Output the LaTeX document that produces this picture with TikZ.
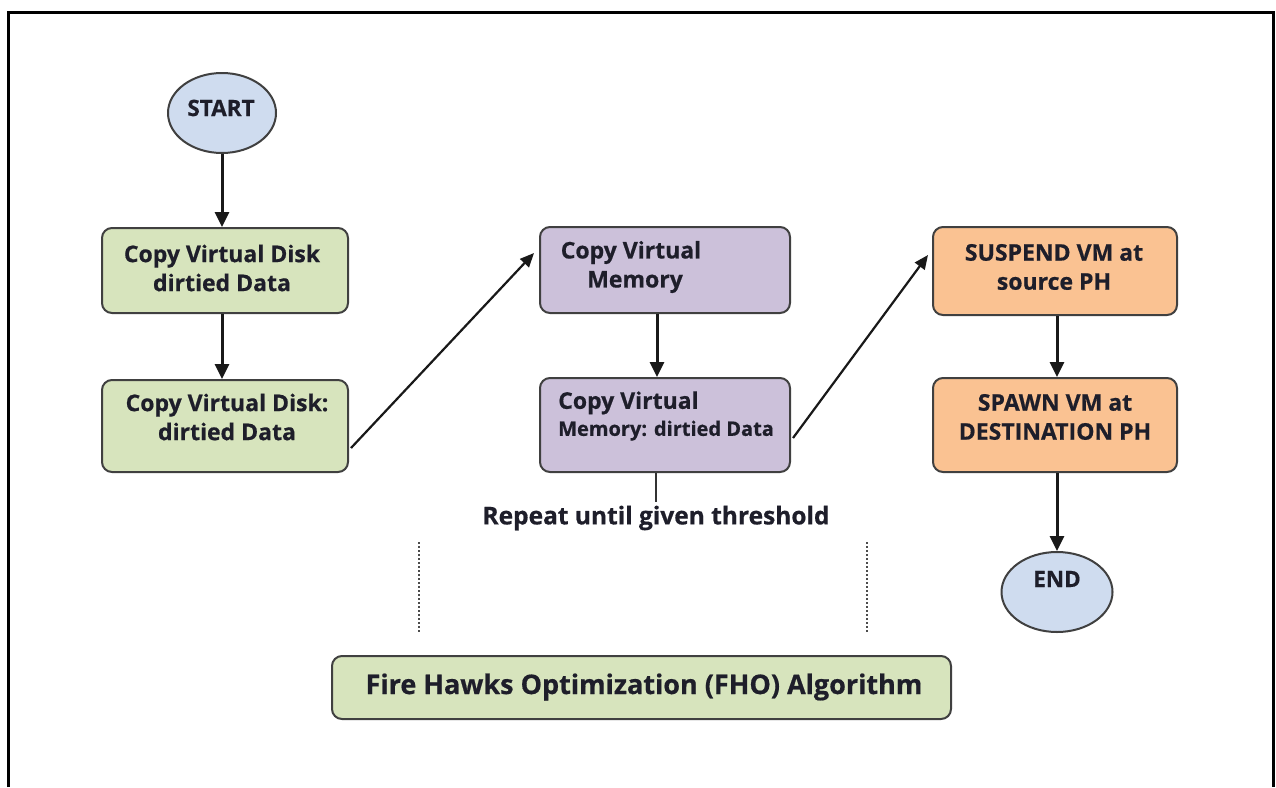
\documentclass[tikz,border=0pt]{standalone}
\usepackage{fontspec}
\setmainfont{Open Sans}[BoldFeatures={FakeBold=0.6}]
\usetikzlibrary{arrows.meta,calc,shapes.geometric}

\definecolor{gfill}{HTML}{D7E4BD}
\definecolor{pfill}{HTML}{CCC1DA}
\definecolor{ofill}{HTML}{FAC292}
\definecolor{efill}{HTML}{CFDCEF}
\definecolor{boxline}{HTML}{404040}
\definecolor{ink}{HTML}{1E1E2A}

\tikzset{
  box/.style={draw=boxline, line width=2pt, rounded corners=10pt, inner sep=0pt},
  gbox/.style={box, fill=gfill},
  pbox/.style={box, fill=pfill},
  obox/.style={box, fill=ofill},
  oval/.style={draw=boxline, line width=2pt, ellipse, fill=efill, inner sep=0pt},
  txt/.style={font=\bfseries\fontsize{23}{29}\selectfont, text=ink, align=center, inner sep=0pt},
  flow/.style={line width=3pt, draw=black!90, -{Triangle[length=15pt,width=14pt]}},
  hop/.style={line width=2.2pt, draw=black!90, -{Triangle[length=14pt,width=12pt]}},
  guide/.style={line width=1.2pt, draw=black!70, dash pattern=on 2pt off 2pt},
  frame/.style={line width=3pt, draw=black}
}

\begin{document}
\begin{tikzpicture}[x=1pt,y=-1pt]
\useasboundingbox (0,0) rectangle (1276,787);
\fill[white] (0,0) rectangle (1276,787);

% outer frame (open at the bottom)
\draw[frame] (8,787) -- (8,12) -- (1273,12) -- (1273,787);

% terminals
\node[oval, minimum width=108pt, minimum height=80pt] (start) at (222,113) {};
\node[txt, font=\bfseries\fontsize{22.5}{26}\selectfont] (startt) at (221,108) {START};
\node[oval, minimum width=111pt, minimum height=80pt] (end) at (1057,592) {};
\node[txt, font=\bfseries\fontsize{22.5}{26}\selectfont] (endt) at (1057,579) {END};

% disk copy stage
\node[gbox, minimum width=246pt, minimum height=85pt] (g1) at (225,270.5) {};
\node[txt] (g1t) at (222,268) {Copy Virtual Disk\\dirtied Data};
\node[gbox, minimum width=246pt, minimum height=92pt] (g2) at (225,426) {};
\node[txt] (g2t) at (227,417) {Copy Virtual Disk:\\dirtied Data};

% memory copy stage
\node[pbox, minimum width=250pt, minimum height=86pt] (p1) at (665,270) {};
\node[txt] (p1t) at (631,267) {Copy Virtual\\\hspace*{8pt}Memory};
\node[pbox, minimum width=250pt, minimum height=94pt] (p2) at (665,425) {};
\node[txt, align=left, anchor=west] (p2t) at (558,416)
  {Copy Virtual\\[-2pt]{\fontsize{20}{24}\selectfont Memory: dirtied Data}};
\node[txt, font=\bfseries\fontsize{24.5}{28}\selectfont] (rep) at (656,518) {Repeat until given threshold};

% switch-over stage
\node[obox, minimum width=244pt, minimum height=88pt] (o1) at (1055,271) {};
\node[txt] (o1t) at (1054,267) {SUSPEND VM at\\source PH};
\node[obox, minimum width=244pt, minimum height=94pt] (o2) at (1055,425) {};
\node[txt] (o2t) at (1055,417) {SPAWN VM at\\DESTINATION PH};

% optimiser bar
\node[gbox, minimum width=619pt, minimum height=63pt] (fho) at (641.5,687.5) {};
\node[txt, font=\bfseries\fontsize{27}{32}\selectfont] (fhot) at (644,687) {Fire Hawks Optimization (FHO) Algorithm};

% dashed guides above the bar
\coordinate (la) at (419,542);
\coordinate (lb) at (419,632);
\coordinate (ra) at (867,542);
\coordinate (rb) at (867,632);
\draw[guide] (la) -- (lb);
\draw[guide] (ra) -- (rb);

% connectors
\draw[flow] (start.south) -- (start.south |- g1.north);
\draw[flow] ($(g1.south)+(-3,0)$) -- ($(g2.north)+(-3,0)$);
\draw[hop] ($(g2.east)+(2,22)$) -- ($(p1.west)+(-5,-17)$);
\draw[flow] ($(p1.south)+(-8,0)$) -- ($(p2.north)+(-8,0)$);
\draw[line width=1.5pt, draw=black!80] ($(p2.south)+(-9,0)$) -- ($(rep.north)+(0,-4)$);
\draw[hop] ($(p2.east)+(2,13)$) -- ($(o1.west)+(-4,-16)$);
\draw[flow] ($(o1.south)+(2,0)$) -- ($(o2.north)+(2,0)$);
\draw[flow] ($(o2.south)+(2,0)$) -- (end.north);
\end{tikzpicture}
\end{document}
